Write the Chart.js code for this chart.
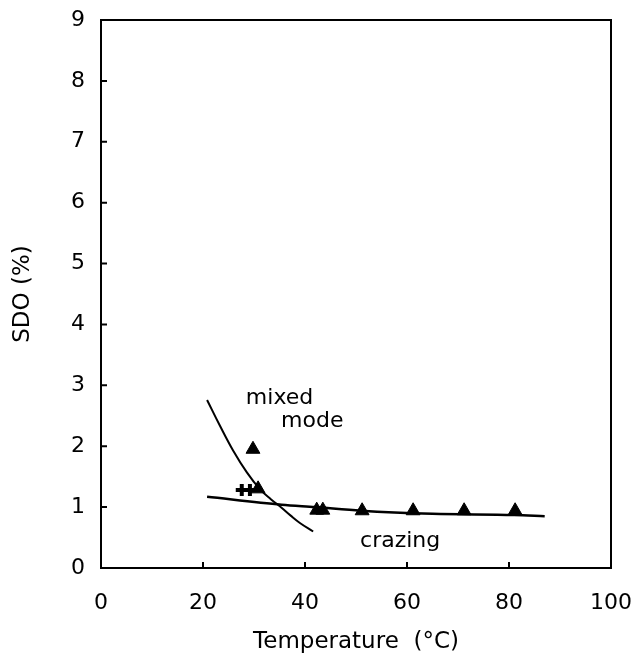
<!DOCTYPE html>
<html>
<head>
<meta charset="utf-8">
<script src="https://cdn.jsdelivr.net/npm/chart.js@4.4.0/dist/chart.umd.min.js"></script>
<style>
  html, body { margin: 0; padding: 0; background: #fff; }
  #wrap { width: 641px; height: 656px; }
</style>
</head>
<body>
<div id="wrap"><canvas id="chart" width="641" height="656"></canvas></div>
<script>
// Valores
const triangleX = [29.8, 30.8, 42.3, 43.5, 51.2, 61.2, 71.2, 81.2];
const triangleY = [1.95, 1.3, 0.95, 0.95, 0.94, 0.94, 0.94, 0.94];
const crossX = [27.6, 29.2];
const crossY = [1.28, 1.28];
const crazingX = [20.8, 35.4, 42, 51, 65, 81, 87];
const crazingY = [1.17, 1.04, 1.0, 0.94, 0.89, 0.87, 0.85];
const mixedX = [20.8, 23.3, 25.9, 28.6, 31.2, 33.3, 35.4, 37.2, 39.0, 41.6];
const mixedY = [2.76, 2.34, 1.93, 1.57, 1.29, 1.13, 0.99, 0.86, 0.74, 0.6];
const xTicks = [0, 20, 40, 60, 80, 100];
const yTicks = [0, 1, 2, 3, 4, 5, 6, 7, 8, 9];
const notes = [
  { text: 'mixed', x: 28.4, y: 2.78 },
  { text: 'mode', x: 35.3, y: 2.41 },
  { text: 'crazing', x: 50.8, y: 0.44 }
];

const FONT = '"DejaVu Sans", sans-serif';
const zip = (xs, ys) => xs.map((x, i) => ({ x, y: ys[i] }));

// Marco, marcas hacia dentro y textos sobre el gráfico
const framePlugin = {
  id: 'frame',
  afterDatasetsDraw(chart) {
    const { ctx, chartArea: a, scales } = chart;
    ctx.save();
    ctx.strokeStyle = '#000';
    ctx.lineWidth = 2;
    ctx.strokeRect(a.left, a.top, a.right - a.left, a.bottom - a.top);
    ctx.beginPath();
    xTicks.slice(1, -1).forEach(v => {
      const px = scales.x.getPixelForValue(v);
      ctx.moveTo(px, a.bottom);
      ctx.lineTo(px, a.bottom - 6);
    });
    yTicks.slice(1, -1).forEach(v => {
      const py = scales.y.getPixelForValue(v);
      ctx.moveTo(a.left, py);
      ctx.lineTo(a.left + 6, py);
    });
    ctx.stroke();
    ctx.fillStyle = '#000';
    ctx.font = '22px ' + FONT;
    ctx.textAlign = 'left';
    ctx.textBaseline = 'middle';
    notes.forEach(n => {
      ctx.fillText(n.text, scales.x.getPixelForValue(n.x), scales.y.getPixelForValue(n.y));
    });
    ctx.restore();
  }
};

new Chart(document.getElementById('chart'), {
  type: 'scatter',
  data: {
    datasets: [
      {
        label: 'triangles',
        data: zip(triangleX, triangleY),
        pointStyle: 'triangle',
        pointRadius: 8,
        backgroundColor: '#000',
        borderColor: '#000',
        borderWidth: 1
      },
      {
        label: 'crosses',
        data: zip(crossX, crossY),
        pointStyle: 'cross',
        pointRadius: 6,
        borderColor: '#000',
        borderWidth: 4
      },
      {
        label: 'crazing',
        data: zip(crazingX, crazingY),
        showLine: true,
        pointRadius: 0,
        borderColor: '#000',
        borderWidth: 2.5,
        tension: 0.4,
        cubicInterpolationMode: 'monotone'
      },
      {
        label: 'mixed mode',
        data: zip(mixedX, mixedY),
        showLine: true,
        pointRadius: 0,
        borderColor: '#000',
        borderWidth: 2,
        tension: 0.4
      }
    ]
  },
  options: {
    responsive: false,
    animation: false,
    layout: { padding: { left: 0, right: 30, top: 20, bottom: 0 } },
    plugins: { legend: { display: false }, tooltip: { enabled: false } },
    scales: {
      x: {
        min: 0, max: 100,
        afterBuildTicks: s => { s.ticks = xTicks.map(v => ({ value: v })); },
        afterFit: s => { s.height = 88; s.paddingLeft = 0; s.paddingRight = 0; },
        grid: { display: false, drawTicks: false },
        border: { display: false },
        ticks: { color: '#000', padding: 22, font: { family: FONT, size: 22 } },
        title: { display: true, text: 'Temperature  (°C)', color: '#000', padding: { top: 12, bottom: 0 }, font: { family: FONT, size: 23 } }
      },
      y: {
        min: 0, max: 9,
        afterBuildTicks: s => { s.ticks = yTicks.map(v => ({ value: v })); },
        afterFit: s => { s.width = 101; s.paddingTop = 0; s.paddingBottom = 0; },
        grid: { display: false, drawTicks: false },
        border: { display: false },
        ticks: { color: '#000', padding: 16, font: { family: FONT, size: 22 } },
        title: { display: true, text: 'SDO (%)', color: '#000', padding: { top: 9, bottom: 20 }, font: { family: FONT, size: 23 } }
      }
    }
  },
  plugins: [framePlugin]
});
</script>
</body>
</html>
